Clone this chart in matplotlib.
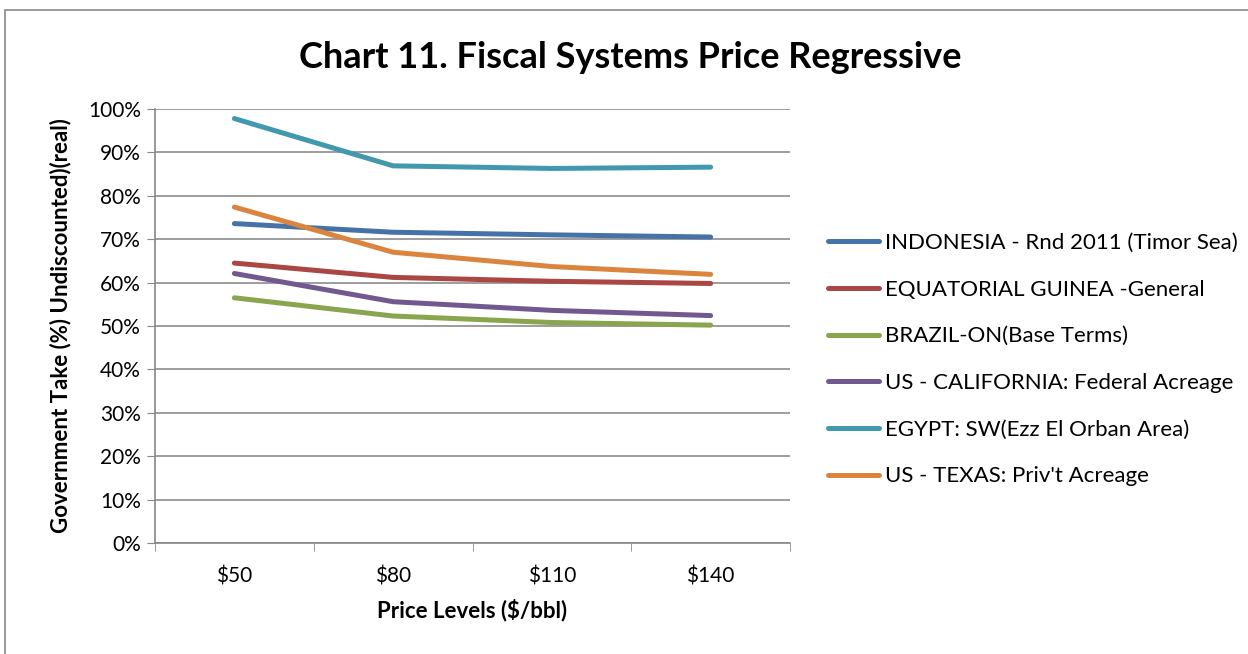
import matplotlib.pyplot as plt
from matplotlib.ticker import FuncFormatter
from matplotlib.patches import Rectangle

prices = ["$50", "$80", "$110", "$140"]

indonesia = [73.6, 71.6, 71.0, 70.5]
eq_guinea = [64.5, 61.2, 60.3, 59.8]
brazil = [56.5, 52.3, 50.8, 50.2]
california = [62.1, 55.6, 53.6, 52.4]
egypt = [97.8, 86.9, 86.3, 86.6]
texas = [77.4, 67.0, 63.7, 61.9]

series = [
    ("INDONESIA - Rnd 2011 (Timor Sea)", indonesia, "#4572A7"),
    ("EQUATORIAL GUINEA -General", eq_guinea, "#AA4643"),
    ("BRAZIL-ON(Base Terms)", brazil, "#89A54E"),
    ("US - CALIFORNIA: Federal Acreage", california, "#71588F"),
    ("EGYPT: SW(Ezz El Orban Area)", egypt, "#4198AF"),
    ("US - TEXAS: Priv't Acreage", texas, "#DB843D"),
]

plt.rcParams['font.family'] = ['Lato', 'DejaVu Sans']

W, H = 1248, 654
fig = plt.figure(figsize=(W / 100, H / 100), dpi=100)

# outer chart border
fig.patches.append(Rectangle((5 / W, -0.01), 1.02, (H - 10) / H + 0.01,
                             transform=fig.transFigure, fill=False,
                             edgecolor="#888888", linewidth=1.2))

ax = fig.add_axes([155 / W, 1 - 543 / H, (790 - 155) / W, (543 - 109) / H])

x = range(len(prices))
for name, vals, col in series:
    ax.plot(x, vals, color=col, linewidth=3.6, solid_capstyle='round', label=name)

ax.set_xlim(-0.5, 3.5)
ax.set_ylim(0, 100)
ax.set_yticks(range(0, 101, 10))
ax.yaxis.set_major_formatter(FuncFormatter(lambda v, p: f"{v:.0f}%"))
ax.set_xticks(list(x))
ax.set_xticklabels(prices)
ax.set_xticks([-0.5, 0.5, 1.5, 2.5, 3.5], minor=True)
ax.tick_params(axis='x', which='major', length=0, labelsize=15, pad=17)
ax.tick_params(axis='x', which='minor', length=6, color="#888888", direction='out')
ax.tick_params(axis='y', length=6, color="#888888", labelsize=15, pad=4)

ax.grid(axis='y', color="#8c8c8c", linewidth=1.2)
ax.set_axisbelow(True)
for s in ['top', 'right']:
    ax.spines[s].set_visible(False)
for s in ['left', 'bottom']:
    ax.spines[s].set_color("#888888")
    ax.spines[s].set_linewidth(1.2)

ax.set_xlabel("Price Levels ($/bbl)", fontsize=16, fontweight='bold', labelpad=9)
ax.set_ylabel("Government Take (%) Undiscounted)(real)", fontsize=16,
              fontweight='bold', labelpad=12)

fig.text(630 / W, 1 - 57 / H, "Chart 11. Fiscal Systems Price Regressive",
         ha='center', va='center', fontsize=26, fontweight='bold')

leg = ax.legend(loc='upper left', bbox_to_anchor=(808 / W, 1 - 213 / H),
                bbox_transform=fig.transFigure, frameon=False, fontsize=16,
                handlelength=2.3, handletextpad=0.25, labelspacing=1.2)

fig.savefig("out.png", dpi=100)
